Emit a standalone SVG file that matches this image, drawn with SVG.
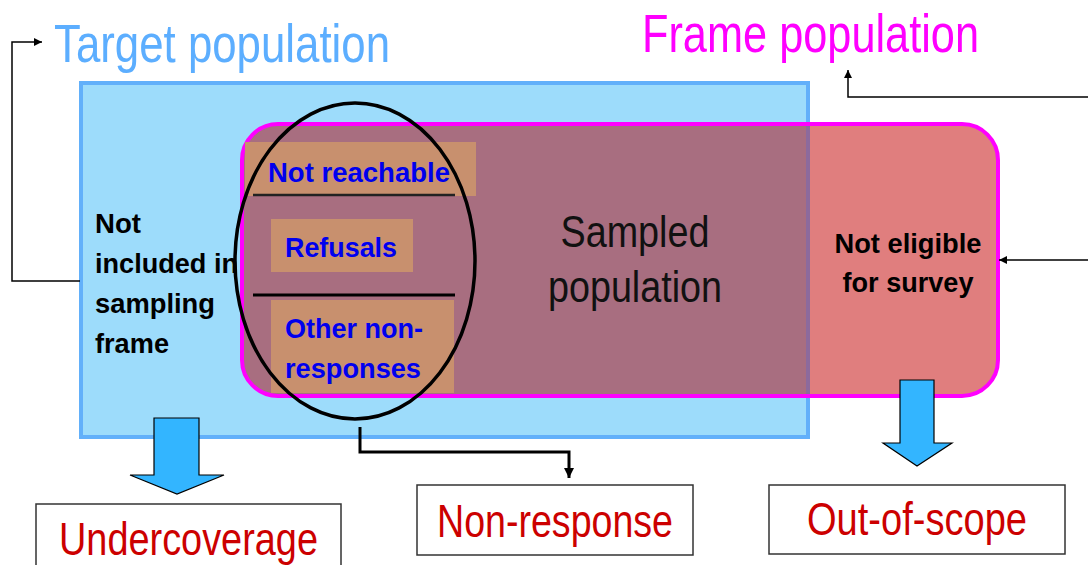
<svg xmlns="http://www.w3.org/2000/svg" width="1088" height="565" viewBox="0 0 1088 565">
<defs>
<marker id="ah" viewBox="0 0 10 10" refX="10" refY="5" markerWidth="8" markerHeight="8" markerUnits="userSpaceOnUse" orient="auto">
<path d="M0,0 L10,5 L0,10 z" fill="#000"/>
</marker>
<marker id="ahb" viewBox="0 0 10 10" refX="10" refY="5" markerWidth="10" markerHeight="10" markerUnits="userSpaceOnUse" orient="auto">
<path d="M0,0 L10,5 L0,10 z" fill="#000"/>
</marker>
<clipPath id="blueclip"><rect x="79" y="81" width="731" height="358"/></clipPath>
</defs>
<style>
text{font-family:"Liberation Sans",Arial,sans-serif;}
.title{font-size:54px;}
.err{font-size:46px;fill:#cc0000;}
.lbl{font-size:27px;font-weight:bold;fill:#000;}
.nr{font-size:28px;font-weight:bold;fill:#0000ee;}
.box{fill:#fff;stroke:#333;stroke-width:1.5;}
.tan{fill:#c8906e;}
.thin{fill:none;stroke:#000;stroke-width:1.5;}
.barrow{fill:#33b5ff;stroke:#000;stroke-width:1.2;}
</style>

<g id="target-population">
<rect x="81" y="83" width="727" height="354" fill="#9ddcfb" stroke="#62b0fa" stroke-width="4"/>
<text class="title" x="54" y="62" fill="#5caeff" textLength="336" lengthAdjust="spacingAndGlyphs">Target population</text>
</g>

<g id="frame-population">
<rect x="242" y="124" width="756" height="272" rx="36" ry="36" fill="#e07e7e"/>
<rect x="242" y="124" width="756" height="272" rx="36" ry="36" fill="#a86e80" clip-path="url(#blueclip)"/>
<line x1="808" y1="126" x2="808" y2="394" stroke="#8c6a9c" stroke-width="4"/>
<rect x="242" y="124" width="756" height="272" rx="36" ry="36" fill="none" stroke="#ff00ff" stroke-width="4"/>
<text class="title" x="642" y="52" fill="#ff00ff" font-size="52" textLength="337" lengthAdjust="spacingAndGlyphs">Frame population</text>
</g>

<g id="not-included">
<text class="lbl" x="95" y="233" textLength="46" lengthAdjust="spacingAndGlyphs">Not</text>
<text class="lbl" x="95" y="273" textLength="143" lengthAdjust="spacingAndGlyphs">included in</text>
<text class="lbl" x="95" y="313" textLength="120" lengthAdjust="spacingAndGlyphs">sampling</text>
<text class="lbl" x="95" y="353" textLength="74" lengthAdjust="spacingAndGlyphs">frame</text>
</g>

<g id="sampled-population">
<text x="635" y="247" font-size="45" fill="#111" text-anchor="middle" textLength="149" lengthAdjust="spacingAndGlyphs">Sampled</text>
<text x="635" y="302" font-size="45" fill="#111" text-anchor="middle" textLength="174" lengthAdjust="spacingAndGlyphs">population</text>
</g>

<g id="not-eligible">
<text class="lbl" x="908" y="253" text-anchor="middle" textLength="147" lengthAdjust="spacingAndGlyphs">Not eligible</text>
<text class="lbl" x="908" y="292" text-anchor="middle" textLength="131" lengthAdjust="spacingAndGlyphs">for survey</text>
</g>

<g id="non-response-group">
<rect class="tan" x="245" y="142" width="231" height="54"/>
<rect class="tan" x="271" y="219" width="142" height="53"/>
<rect class="tan" x="271" y="300" width="183" height="93"/>
<text class="nr" x="268" y="182" textLength="182" lengthAdjust="spacingAndGlyphs">Not reachable</text>
<line x1="253" y1="195" x2="455" y2="195" stroke="#222" stroke-width="2.5"/>
<text class="nr" x="285" y="257" textLength="112" lengthAdjust="spacingAndGlyphs">Refusals</text>
<line x1="253" y1="295" x2="455" y2="295" stroke="#000" stroke-width="3"/>
<text class="nr" x="285" y="338" textLength="138" lengthAdjust="spacingAndGlyphs">Other non-</text>
<text class="nr" x="285" y="378" textLength="136" lengthAdjust="spacingAndGlyphs">responses</text>
<ellipse cx="355" cy="261" rx="120" ry="158" fill="none" stroke="#000" stroke-width="3.5"/>
</g>

<g id="undercoverage">
<rect class="box" x="36" y="504" width="305" height="80"/>
<text class="err" x="59" y="555" textLength="259" lengthAdjust="spacingAndGlyphs">Undercoverage</text>
</g>

<g id="non-response">
<rect class="box" x="417" y="485" width="276" height="70"/>
<text class="err" x="437" y="537" textLength="236" lengthAdjust="spacingAndGlyphs">Non-response</text>
</g>

<g id="out-of-scope">
<rect class="box" x="769" y="485" width="296" height="69"/>
<text class="err" x="807" y="535" textLength="220" lengthAdjust="spacingAndGlyphs">Out-of-scope</text>
</g>

<g id="connectors">
<polyline class="thin" points="80,281 12,281 12,42 42,42" marker-end="url(#ah)"/>
<polyline class="thin" points="1088,97 848,97 848,70" stroke="#333" marker-end="url(#ah)"/>
<line class="thin" x1="1088" y1="260" x2="999" y2="260" marker-end="url(#ah)"/>
<polyline points="360,427 360,452 569,452 569,478" fill="none" stroke="#000" stroke-width="3" marker-end="url(#ahb)"/>
<polygon class="barrow" points="154,418 199,418 199,475 224,475 177,494 130,475 154,475"/>
<polygon class="barrow" points="900,380 934,380 934,443 952,443 917,466 883,443 900,443"/>
</g>
</svg>
